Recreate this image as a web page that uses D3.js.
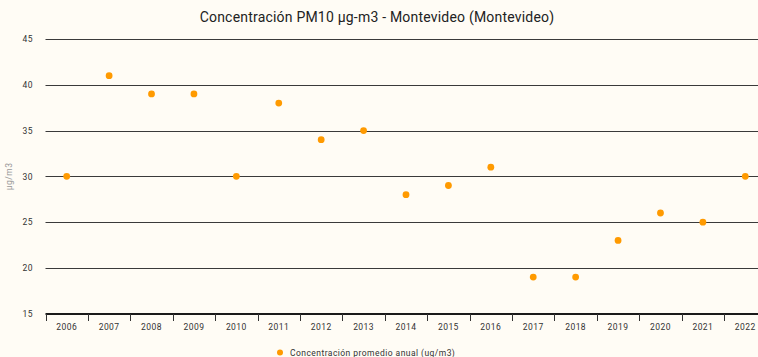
<!DOCTYPE html>
<html>
<head>
<meta charset="utf-8">
<script src="https://cdn.jsdelivr.net/npm/d3@7"></script>
<style>
  html, body { margin: 0; padding: 0; background: #fffcf5; }
  svg { display: block; font-family: Roboto, "Noto Sans", sans-serif; }
</style>
</head>
<body>
<svg id="chart" width="758" height="357"></svg>
<script>
// Annual mean PM10 concentration, Montevideo
const years = ["2006","2007","2008","2009","2010","2011","2012","2013","2014","2015","2016","2017","2018","2019","2020","2021","2022"];
const values = [30, 41, 39, 39, 30, 38, 34, 35, 28, 29, 31, 19, 19, 23, 26, 25, 30];
const yTicks = [15, 20, 25, 30, 35, 40, 45];
const titleText = "Concentración PM10 µg-m3 - Montevideo (Montevideo)";
const seriesName = "Concentración promedio anual (ug/m3)";
const yTitle = "µg/m3";

const svg = d3.select("#chart");
const orange = "#ff9a00";
const small = 8.5, spacing = 0.45;

const x = d3.scaleBand().domain(years).range([45.5, 766.5]).padding(0);
const y = d3.scaleLinear().domain([15, 45]).range([313.7, 39]);

// title
svg.append("text")
  .attr("x", 377).attr("y", 22)
  .attr("text-anchor", "middle")
  .attr("font-size", 14)
  .attr("letter-spacing", 0.2)
  .attr("fill", "#222")
  .text(titleText);

// horizontal grid
svg.append("g").selectAll("line")
  .data(yTicks.filter(d => d > 15))
  .join("line")
  .attr("x1", 45.5).attr("x2", 758)
  .attr("y1", d => Math.round(y(d)) + 0.5).attr("y2", d => Math.round(y(d)) + 0.5)
  .attr("stroke", "#3a3a3a").attr("stroke-width", 1);

// y axis labels
const yAxis = d3.axisLeft(y).tickValues(yTicks).tickSize(0).tickPadding(0);
const gy = svg.append("g").attr("transform", "translate(33,0)").call(yAxis);
gy.select(".domain").remove();
gy.selectAll("text")
  .attr("font-size", small).attr("letter-spacing", spacing)
  .attr("fill", "#333").attr("font-family", "Roboto, sans-serif");

// y axis title
svg.append("text")
  .attr("transform", `translate(12,${y(30)}) rotate(-90)`)
  .attr("text-anchor", "middle")
  .attr("font-size", small)
  .attr("letter-spacing", spacing)
  .attr("fill", "#999")
  .text(yTitle);

// x axis with ticks at band boundaries
const base = Math.round(y(15));
svg.append("line")
  .attr("x1", 45.5).attr("x2", 758)
  .attr("y1", base).attr("y2", base)
  .attr("stroke", "#1a1a1a").attr("stroke-width", 2);
const boundaries = years.map(d => x(d));
svg.append("g").selectAll("line")
  .data(boundaries)
  .join("line")
  .attr("x1", d => Math.round(d) + 0.5).attr("x2", d => Math.round(d) + 0.5)
  .attr("y1", base).attr("y2", base + 7)
  .attr("stroke", "#333").attr("stroke-width", 1);
svg.append("g").selectAll("text")
  .data(years)
  .join("text")
  .attr("x", d => x(d) + x.bandwidth() / 2)
  .attr("y", base + 16)
  .attr("text-anchor", "middle")
  .attr("font-size", small)
  .attr("letter-spacing", spacing)
  .attr("fill", "#333")
  .text(d => d);

// points
svg.append("g").selectAll("circle")
  .data(years.map((d, i) => ({ year: d, value: values[i] })))
  .join("circle")
  .attr("cx", d => x(d.year) + x.bandwidth() / 2)
  .attr("cy", d => y(d.value))
  .attr("r", 3.4)
  .attr("fill", orange);

// legend
svg.append("circle").attr("cx", 280).attr("cy", 352.5).attr("r", 3).attr("fill", orange);
svg.append("text")
  .attr("x", 290).attr("y", 355.5)
  .attr("font-size", small)
  .attr("letter-spacing", spacing)
  .attr("fill", "#333")
  .text(seriesName);
</script>
</body>
</html>
